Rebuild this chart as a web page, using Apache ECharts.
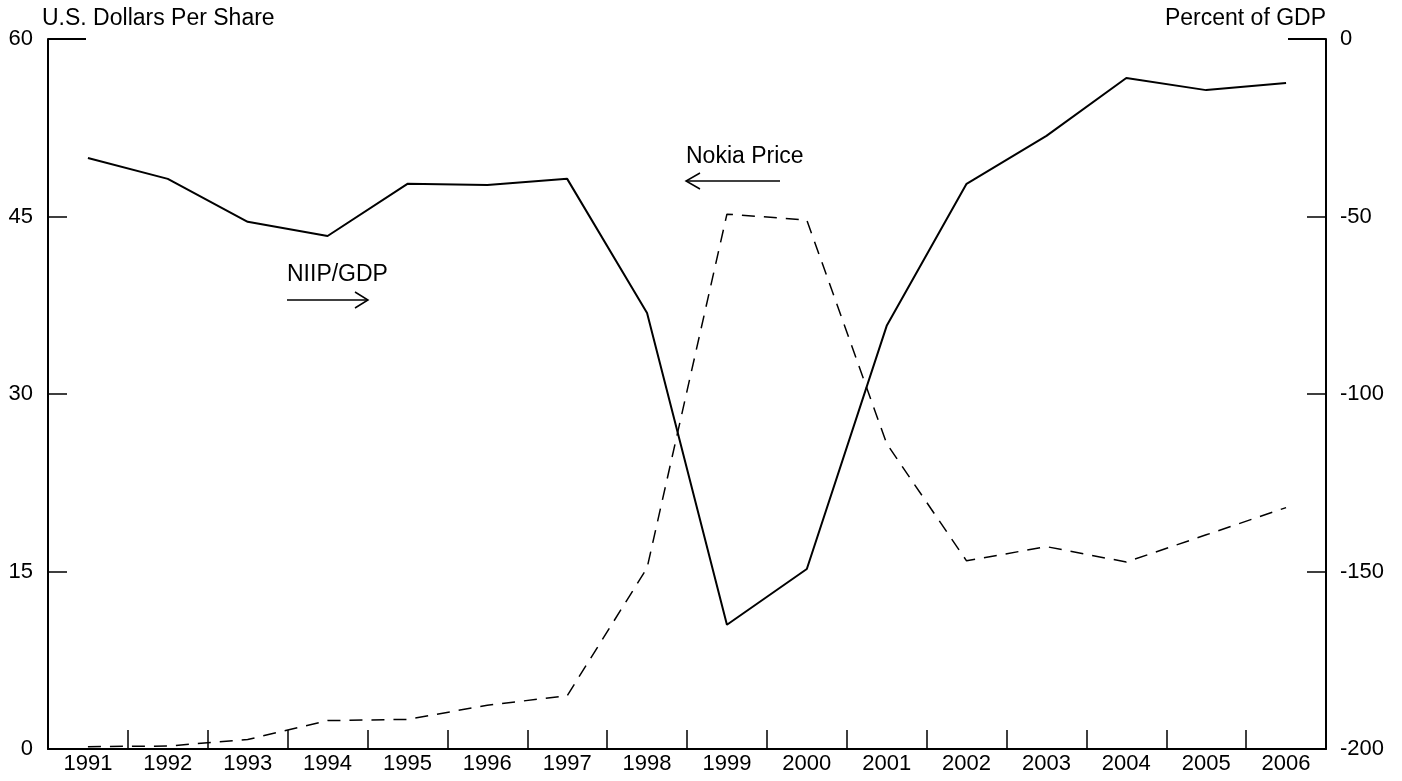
<!DOCTYPE html>
<html>
<head>
<meta charset="utf-8">
<script src="https://cdn.jsdelivr.net/npm/echarts@6/dist/echarts.min.js"></script>
<style>
  html, body { margin: 0; padding: 0; background: #fff; }
  #chart { width: 1402px; height: 781px; }
</style>
</head>
<body>
<div id="chart"></div>
<script>
// years on the x axis
const years = ['1991', '1992', '1993', '1994', '1995', '1996', '1997', '1998',
  '1999', '2000', '2001', '2002', '2003', '2004', '2005', '2006']
// Nokia share price, US$ (left axis, dashed)
const nokiaPrice = [0.2, 0.25, 0.8, 2.4, 2.5, 3.7, 4.5, 15.3,
  45.2, 44.7, 25.8, 15.9, 17.1, 15.8, 18.1, 20.4]
// Finland NIIP as percent of GDP (right axis, solid)
const niipGdp = [-33.5, -39.4, -51.5, -55.5, -40.8, -41.1, -39.4, -77.2,
  -165, -149.3, -80.8, -40.8, -27.3, -11, -14.4, -12.4]
const leftTicks = [0, 15, 30, 45, 60]
const rightTicks = [-200, -150, -100, -50, 0]

const font = 'Liberation Sans, Arial, sans-serif'
const ink = '#000'

let chart = echarts.init(document.getElementById('chart'))

const axisCommon = {
  axisLine: { show: true, lineStyle: { color: ink, width: 2 } },
  axisTick: { show: true, inside: true, length: 19, lineStyle: { color: ink, width: 1.5 } },
  splitLine: { show: false },
  axisLabel: { color: ink, fontSize: 22, fontFamily: font }
}

let option = {
  animation: false,
  backgroundColor: '#fff',
  grid: { left: 48, right: 76, top: 39, bottom: 32 },
  xAxis: {
    type: 'category',
    data: years,
    boundaryGap: true,
    ...axisCommon,
    axisTick: { ...axisCommon.axisTick, alignWithLabel: false },
    axisLabel: { ...axisCommon.axisLabel, margin: 4 }
  },
  yAxis: [
    {
      type: 'value',
      position: 'left',
      min: leftTicks[0],
      max: leftTicks[leftTicks.length - 1],
      interval: 15,
      name: 'U.S. Dollars Per Share',
      nameLocation: 'end',
      nameGap: 9,
      nameTextStyle: { color: ink, fontSize: 23, fontFamily: font, align: 'left', padding: [0, 0, 0, -6] },
      ...axisCommon,
      axisLabel: { ...axisCommon.axisLabel, margin: 15 }
    },
    {
      type: 'value',
      position: 'right',
      min: rightTicks[0],
      max: rightTicks[rightTicks.length - 1],
      interval: 50,
      name: 'Percent of GDP',
      nameLocation: 'end',
      nameGap: 9,
      nameTextStyle: { color: ink, fontSize: 23, fontFamily: font, align: 'right' },
      ...axisCommon,
      axisLabel: { ...axisCommon.axisLabel, margin: 14 }
    }
  ],
  series: [
    {
      name: 'Nokia Price',
      type: 'line',
      yAxisIndex: 0,
      data: nokiaPrice,
      symbol: 'none',
      lineStyle: { color: ink, width: 1.5, type: [13, 9] }
    },
    {
      name: 'NIIP/GDP',
      type: 'line',
      yAxisIndex: 1,
      data: niipGdp,
      symbol: 'none',
      lineStyle: { color: ink, width: 2 }
    }
  ],
  graphic: [
    // longer end ticks at the top of both value axes
    { type: 'line', shape: { x1: 48, y1: 39, x2: 86, y2: 39 }, style: { stroke: ink, lineWidth: 2 } },
    { type: 'line', shape: { x1: 1288, y1: 39, x2: 1326, y2: 39 }, style: { stroke: ink, lineWidth: 2 } },
    // Nokia Price label with arrow to the left
    { type: 'text', x: 686, y: 157, style: { text: 'Nokia Price', fill: ink, fontSize: 23, fontFamily: font, verticalAlign: 'middle' } },
    { type: 'line', shape: { x1: 686, y1: 181, x2: 780, y2: 181 }, style: { stroke: ink, lineWidth: 1.5 } },
    { type: 'polyline', shape: { points: [[700, 173], [686, 181], [700, 189]] }, style: { stroke: ink, lineWidth: 1.5, fill: null } },
    // NIIP/GDP label with arrow to the right
    { type: 'text', x: 287, y: 275, style: { text: 'NIIP/GDP', fill: ink, fontSize: 23, fontFamily: font, verticalAlign: 'middle' } },
    { type: 'line', shape: { x1: 287, y1: 300, x2: 368, y2: 300 }, style: { stroke: ink, lineWidth: 1.5 } },
    { type: 'polyline', shape: { points: [[355, 292], [368, 300], [355, 308]] }, style: { stroke: ink, lineWidth: 1.5, fill: null } }
  ]
}

chart.setOption(option)
</script>
</body>
</html>
